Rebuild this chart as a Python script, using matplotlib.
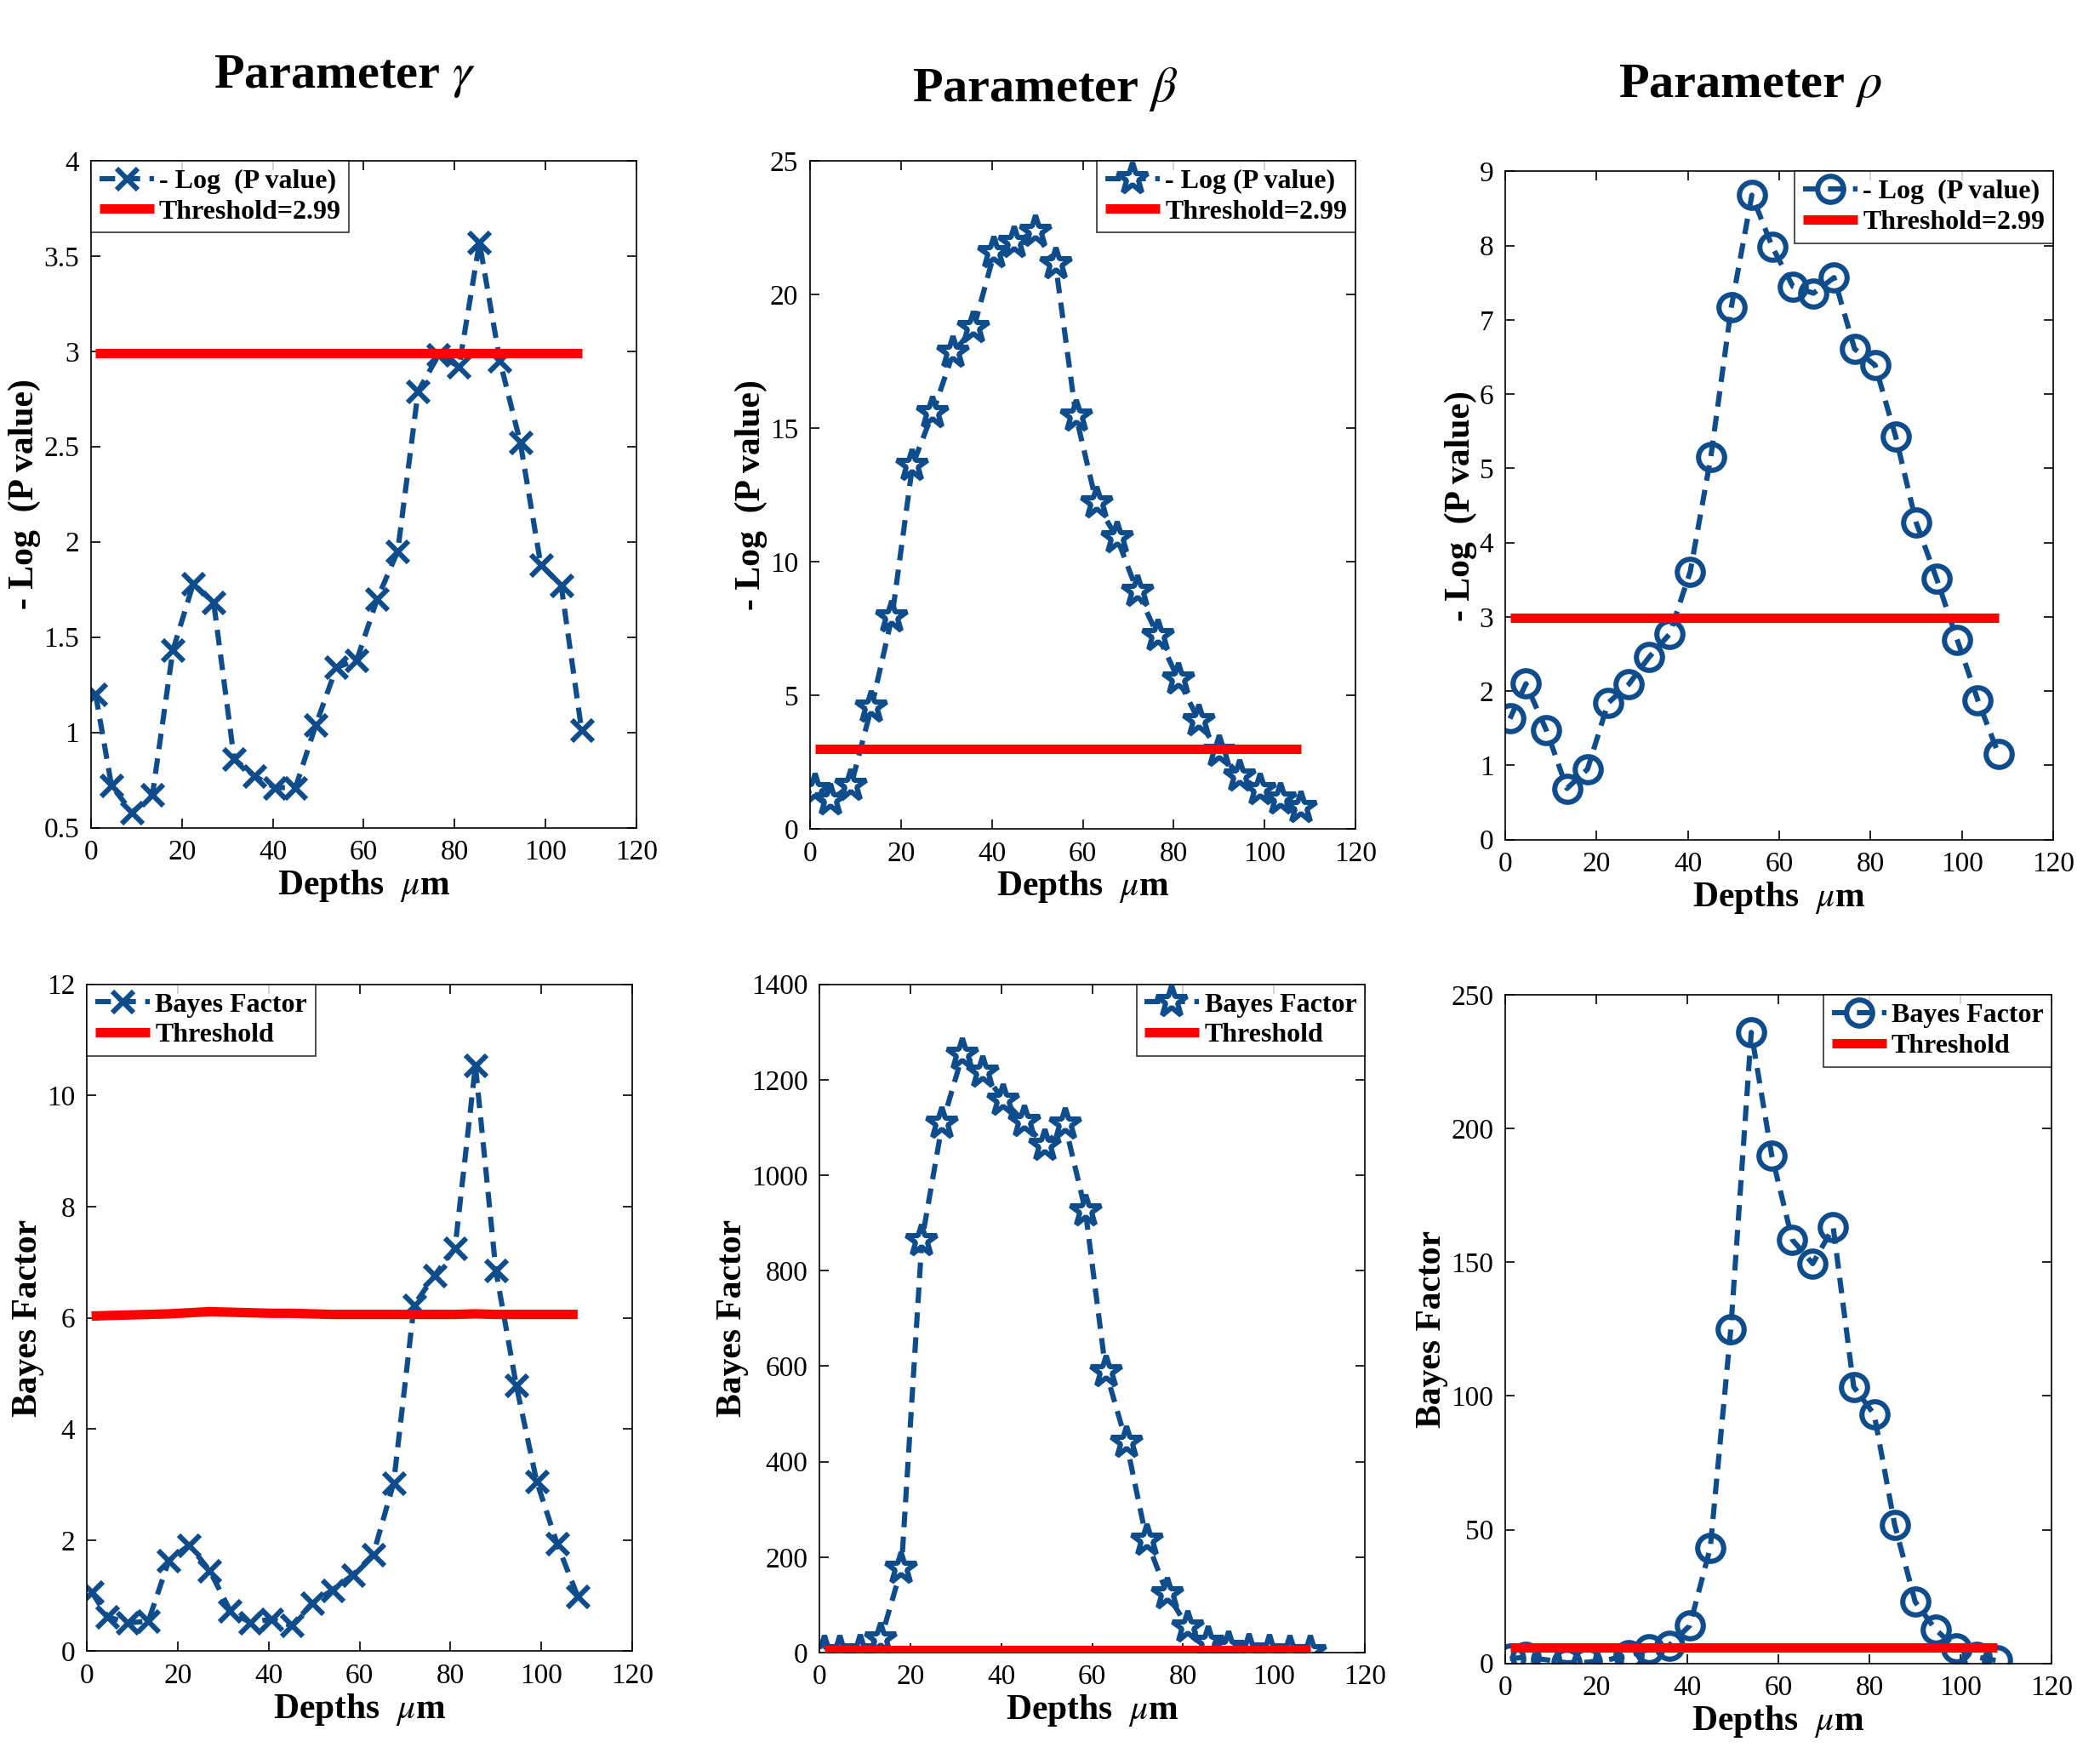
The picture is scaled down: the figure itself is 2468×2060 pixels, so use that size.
import matplotlib
matplotlib.use("Agg")
import matplotlib.pyplot as plt

plt.rcParams['font.family'] = ['Liberation Serif', 'DejaVu Serif']
plt.rcParams['mathtext.fontset'] = 'stix'

# ---------------- data ----------------
depths = [1, 4.5, 9, 13.5, 18, 22.5, 27, 31.5, 36, 40.5, 45, 49.5, 54,
          58.5, 63, 67.5, 72, 76.5, 81, 85.5, 90, 94.5, 99, 103.5, 108]

logp_gamma = [1.20, 0.72, 0.58, 0.67, 1.43, 1.78, 1.68, 0.86, 0.77, 0.71, 0.71, 1.04, 1.34,
              1.38, 1.70, 1.95, 2.79, 2.98, 2.92, 3.57, 2.95, 2.52, 1.88, 1.77, 1.01]
logp_beta = [1.47, 1.08, 1.64, 4.57, 7.94, 13.6, 15.58, 17.83, 18.75, 21.55, 21.93, 22.36, 21.13,
             15.44, 12.19, 10.9, 8.88, 7.24, 5.61, 4.06, 2.89, 1.98, 1.46, 1.13, 0.79]
logp_rho = [1.63, 2.10, 1.47, 0.69, 0.95, 1.84, 2.09, 2.46, 2.77, 3.61, 5.15, 7.17, 8.68,
            7.98, 7.45, 7.36, 7.57, 6.61, 6.39, 5.43, 4.27, 3.51, 2.69, 1.88, 1.16]

bf_gamma = [1.07, 0.62, 0.51, 0.54, 1.63, 1.91, 1.45, 0.73, 0.51, 0.58, 0.46, 0.86, 1.10,
            1.37, 1.74, 3.03, 6.23, 6.76, 7.25, 10.54, 6.85, 4.78, 3.05, 1.93, 0.99]
bf_beta = [2, 2, 3, 29, 176, 863, 1108, 1254, 1216, 1157, 1112, 1062, 1107,
           926, 589, 441, 235, 123, 54, 21, 11, 5, 3, 2, 2]
bf_rho = [1.7, 2.3, 1.3, 0.2, 0.4, 1.3, 2.9, 5.2, 6.7, 14.1, 43.2, 124.9, 236.0,
          190.0, 158.5, 149.5, 163.1, 103.4, 93.1, 51.8, 23.0, 12.6, 5.7, 2.3, 1.0]

thr_logp = [2.99] * len(depths)
thr_bf_gamma = [6.03, 6.04, 6.05, 6.06, 6.07, 6.09, 6.11, 6.10, 6.09, 6.08, 6.08, 6.07, 6.06,
                6.06, 6.06, 6.06, 6.06, 6.06, 6.06, 6.07, 6.06, 6.06, 6.06, 6.06, 6.06]
thr_bf = [6.0] * len(depths)

titles = [r'Parameter $\gamma$', r'Parameter $\beta$', r'Parameter $\rho$']

# ---------------- style ----------------
blue = '#0f4c8c'
red = '#ff0000'

fig = plt.figure(figsize=(12.34, 10.30), dpi=200)

W, H = 1568.0, 1309.0
def rect(l, r, t, b):
    return [l / W, 1 - b / H, (r - l) / W, (b - t) / H]

rects = [rect(68, 475, 120, 618), rect(605, 1012, 120, 619), rect(1124, 1533, 128, 627),
         rect(65, 472, 735, 1233), rect(612, 1019, 735, 1234), rect(1124, 1532, 743, 1242)]

panels = [
    dict(y=logp_gamma, thr=thr_logp, marker='x', lab=u'- Log  (P value)', tlab='Threshold=2.99',
         ylabel='- Log  (P value)', ylim=(0.5, 4), yticks=[0.5, 1, 1.5, 2, 2.5, 3, 3.5, 4],
         loc='upper left', ytl=['0.5', '1', '1.5', '2', '2.5', '3', '3.5', '4']),
    dict(y=logp_beta, thr=thr_logp, marker='*', lab=u'- Log (P value)', tlab='Threshold=2.99',
         ylabel='- Log  (P value)', ylim=(0, 25), yticks=[0, 5, 10, 15, 20, 25],
         loc='upper right', ytl=None),
    dict(y=logp_rho, thr=thr_logp, marker='o', lab=u'- Log  (P value)', tlab='Threshold=2.99',
         ylabel='- Log  (P value)', ylim=(0, 9), yticks=list(range(0, 10)),
         loc='upper right', ytl=None),
    dict(y=bf_gamma, thr=thr_bf_gamma, marker='x', lab='Bayes Factor', tlab='Threshold',
         ylabel='Bayes Factor', ylim=(0, 12), yticks=[0, 2, 4, 6, 8, 10, 12],
         loc='upper left', ytl=None),
    dict(y=bf_beta, thr=thr_bf, marker='*', lab='Bayes Factor', tlab='Threshold',
         ylabel='Bayes Factor', ylim=(0, 1400), yticks=list(range(0, 1401, 200)),
         loc='upper right', ytl=None),
    dict(y=bf_rho, thr=thr_bf, marker='o', lab='Bayes Factor', tlab='Threshold',
         ylabel='Bayes Factor', ylim=(0, 250), yticks=[0, 50, 100, 150, 200, 250],
         loc='upper right', ytl=None),
]

for rc, p in zip(rects, panels):
    ax = fig.add_axes(rc)
    m = p['marker']
    if m == 'x':
        mk = dict(marker='x', markersize=9, markeredgewidth=2.2, color=blue)
    elif m == '*':
        mk = dict(marker='*', markersize=14, markeredgewidth=2.2, color=blue,
                  markerfacecolor='white', markeredgecolor=blue)
    else:
        mk = dict(marker='o', markersize=11, markeredgewidth=2.2, color=blue,
                  markerfacecolor='none', markeredgecolor=blue)
    ax.plot(depths, p['y'], linestyle='--', linewidth=2.2, dashes=(3, 1.8), label=p['lab'],
            zorder=2, **mk)
    ax.plot(depths, p['thr'], color=red, linewidth=4.0, solid_capstyle='butt',
            label=p['tlab'], zorder=3)
    ax.set_xlim(0, 120)
    ax.set_xticks([0, 20, 40, 60, 80, 100, 120])
    ax.set_ylim(*p['ylim'])
    ax.set_yticks(p['yticks'])
    if p['ytl'] is not None:
        ax.set_yticklabels(p['ytl'])
    ax.tick_params(direction='in', top=True, right=True, labelsize=12, length=4,
                   width=0.6, pad=5)
    for s in ax.spines.values():
        s.set_linewidth(0.6)
    ax.set_xlabel(r'Depths  $\mu$m', fontsize=15, fontweight='bold', labelpad=1)
    ax.set_ylabel(p['ylabel'], fontsize=15, fontweight='bold', labelpad=1)
    leg = ax.legend(loc=p['loc'], prop=dict(weight='bold', size=11.5),
                    frameon=True, fancybox=False, borderaxespad=0, handlelength=2.0,
                    handletextpad=0.2, borderpad=0.3, labelspacing=0.2)
    leg.get_frame().set_edgecolor('black')
    leg.get_frame().set_linewidth(0.6)
    leg.set_zorder(5)

title_pos = [(257 / W, 1 - 57 / H), (780 / W, 1 - 67 / H), (1307 / W, 1 - 64 / H)]
for t, (x, y) in zip(titles, title_pos):
    fig.text(x, y, t, ha='center', va='center', fontsize=21, fontweight='bold')

fig.savefig('out.png', dpi=200, facecolor='white')
